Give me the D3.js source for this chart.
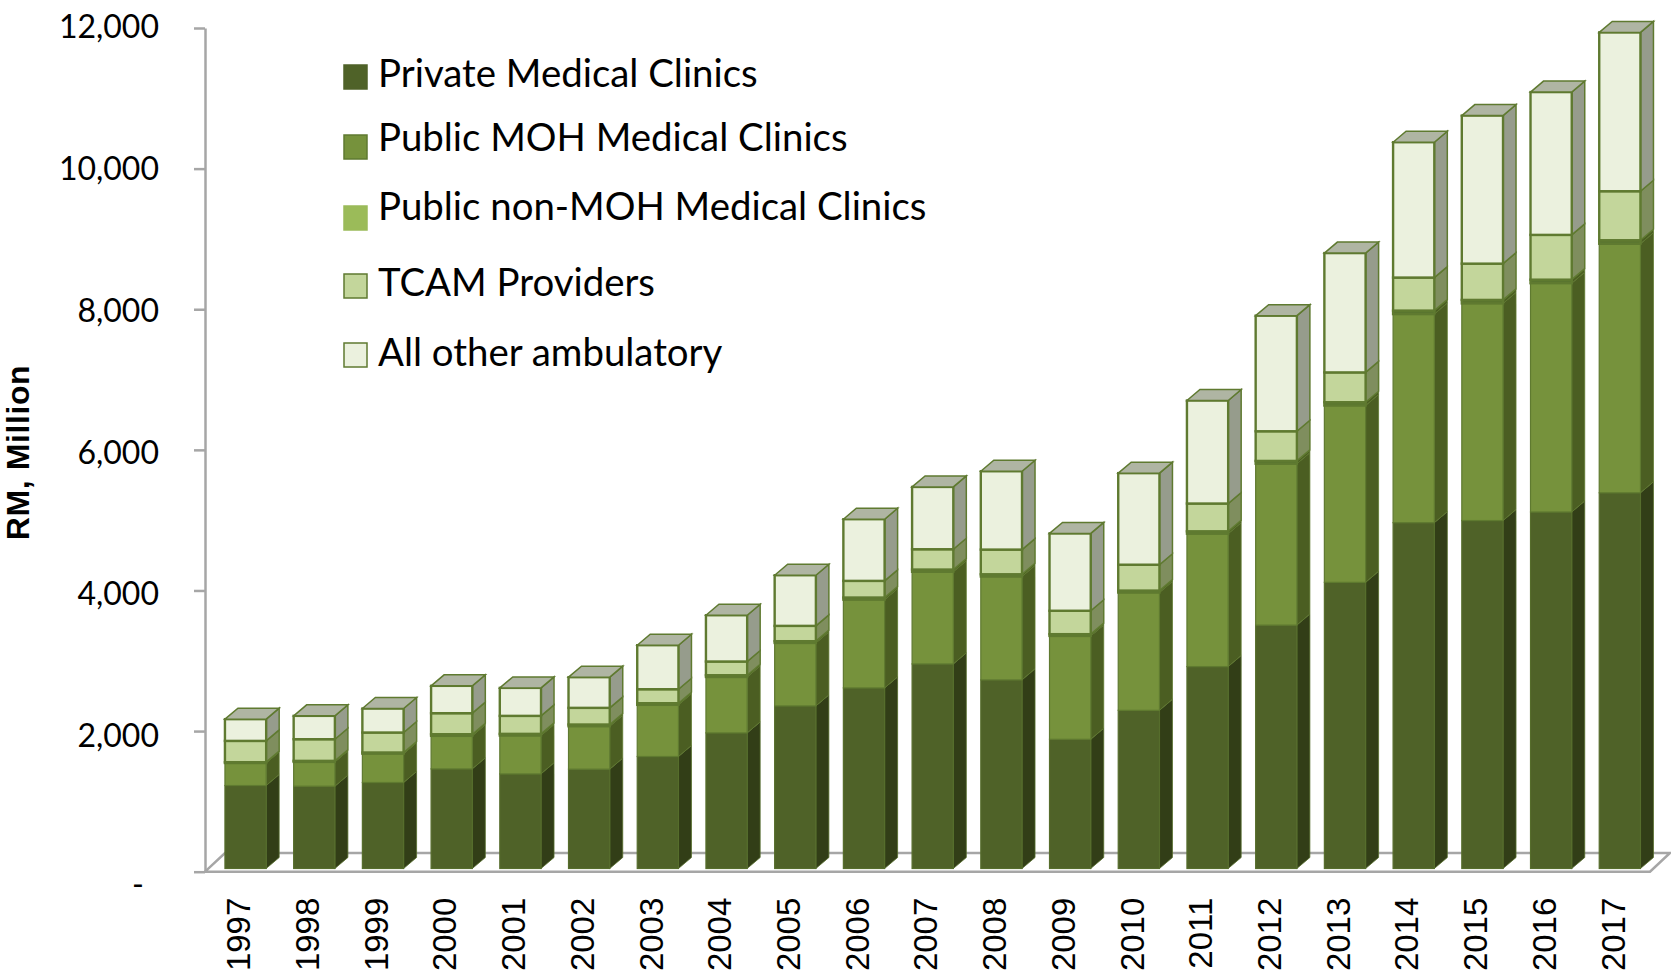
<!DOCTYPE html>
<html>
<head>
<meta charset="utf-8">
<script src="https://cdn.jsdelivr.net/npm/d3@7"></script>
<style>
  html, body { margin: 0; padding: 0; background: #fff; }
  svg { display: block; }
</style>
</head>
<body>
<div id="vis"></div>
<script>
const years = ["1997","1998","1999","2000","2001","2002","2003","2004","2005","2006","2007",
  "2008","2009","2010","2011","2012","2013","2014","2015","2016","2017"];

const seriesNames = ["Private Medical Clinics", "Public MOH Medical Clinics",
  "Public non-MOH Medical Clinics", "TCAM Providers", "All other ambulatory"];

const privateClinics = [1180,1171,1223,1417,1346,1413,1593,1929,2313,2569,2910,2683,1838,2250,2872,3462,4070,4919,4949,5071,5344];
const publicMoh = [320,345,410,470,545,610,735,795,895,1255,1310,1470,1470,1675,1890,2295,2515,2966,3088,3254,3542];
const publicNonMoh = [12,15,17,23,24,25,23,25,25,30,32,32,25,28,34,40,47,50,50,50,50];
const tcam = [303,308,284,299,256,237,199,195,218,237,289,351,333,368,395,422,424,470,516,637,697];
const otherAmb = [309,332,341,389,398,436,626,658,720,877,886,1114,1100,1302,1465,1644,1697,1925,2106,2031,2259];

const yTicks = [0, 2000, 4000, 6000, 8000, 10000, 12000];

const fronts = ["#4f6228", "#76923c", "#5a7530", "#c3d69b", "#ebf1de"];
const sides = ["#323e17", "#4b5e22", "#4b5e22", "#7f8e5e", "#969c8c"];
const legendFill = ["#4f6228", "#76923c", "#9bbb59", "#c3d69b", "#ebf1de"];
const legendStroke = ["#4f6228", "#5f7a30", "#9bbb59", "#5f7a30", "#5f7a30"];
const topFill = "#afb5a3";
const edge = "#5f7a30";

const svg = d3.select("#vis").append("svg")
  .attr("width", 1671)
  .attr("height", 980);

const x = d3.scaleBand()
  .domain(years)
  .range([205, 1648])
  .paddingInner(0.4)
  .paddingOuter(0.2);

const y = d3.scaleLinear()
  .domain([0, 12000])
  .range([871.7, 28]);

// bars stand a little inside the floor, shifted from the axis like the 3D chart
const shiftX = 6.2, shiftY = -3.2;
const depthX = 13, depthY = 11;

// ------------------------
// Floor
// ------------------------
svg.append("path")
  .attr("d", `M205,${y(0)}H1650L1670,${y(0) - 18.7}H225Z`)
  .attr("fill", "#fff")
  .attr("stroke", "#a6a6a6")
  .attr("stroke-width", 2.5);

// ------------------------
// Axes
// ------------------------
const yAxis = svg.append("g")
  .attr("transform", "translate(205,0)")
  .call(d3.axisLeft(y)
    .tickValues(yTicks)
    .tickSizeInner(11)
    .tickSizeOuter(0)
    .tickPadding(35)
    .tickFormat(d => d === 0 ? "-" : d3.format(",")(d)));

yAxis.selectAll("path, line")
  .attr("stroke", "#a6a6a6")
  .attr("stroke-width", 2.5);

// labels drift slightly from their ticks in the original
const labelDrift = d3.scaleLinear().domain([2000, 12000]).range([15.8, 9.4]);
yAxis.selectAll("text")
  .attr("fill", "#000")
  .attr("dy", d => d === 0 ? 24 : labelDrift(d))
  .attr("dx", d => d === 0 ? -15 : 0)
  .style("font-family", "Lato")
  .style("font-size", "32px");

const xAxis = svg.append("g")
  .attr("transform", `translate(0,${y(0)})`)
  .call(d3.axisBottom(x).tickSize(0));

xAxis.select(".domain").remove();
xAxis.selectAll("text")
  .attr("transform", "rotate(-90)")
  .attr("x", -26)
  .attr("y", -1)
  .attr("dy", "0.36em")
  .attr("fill", "#000")
  .style("text-anchor", "end")
  .style("font-family", "'Liberation Sans'")
  .style("font-size", "33px");

svg.append("text")
  .attr("transform", "translate(29,452.5) rotate(-90)")
  .attr("text-anchor", "middle")
  .style("font-family", "'Liberation Sans'")
  .style("font-weight", "bold")
  .style("font-size", "32px")
  .style("letter-spacing", "0.6px")
  .text("RM, Million");

// ------------------------
// Stacked 3D bars
// ------------------------
const rows = years.map((year, i) => ({
  year,
  s0: privateClinics[i],
  s1: publicMoh[i],
  s2: publicNonMoh[i],
  s3: tcam[i],
  s4: otherAmb[i]
}));

const stacked = d3.stack().keys(["s0", "s1", "s2", "s3", "s4"])(rows);

const bars = svg.append("g")
  .attr("transform", `translate(${shiftX},${shiftY})`);

const w = x.bandwidth();

stacked.forEach((layer, k) => {
  const strokeCol = k === 0 ? "#566d2c" : edge;

  bars.selectAll(null)
    .data(layer)
    .enter().append("path")
    .attr("d", d => {
      const xr = x(d.data.year) + w;
      return `M${xr},${y(d[1])}l${depthX},${-depthY}V${y(d[0]) - depthY}l${-depthX},${depthY}Z`;
    })
    .attr("fill", sides[k])
    .attr("stroke", strokeCol)
    .attr("stroke-width", k > 2 ? 1.5 : 0.8);

  bars.selectAll(null)
    .data(layer)
    .enter().append("rect")
    .attr("x", d => x(d.data.year))
    .attr("y", d => y(d[1]))
    .attr("width", w)
    .attr("height", d => y(d[0]) - y(d[1]))
    .attr("fill", fronts[k])
    .attr("stroke", strokeCol)
    .attr("stroke-width", k > 1 ? 2.4 : 1.2);
});

bars.selectAll(null)
  .data(stacked[4])
  .enter().append("path")
  .attr("d", d => `M${x(d.data.year)},${y(d[1])}l${depthX},${-depthY}h${w}l${-depthX},${depthY}Z`)
  .attr("fill", topFill)
  .attr("stroke", edge)
  .attr("stroke-width", 1.5);

// ------------------------
// Legend
// ------------------------
const swatchTop = [65, 135, 206, 274, 343];
const labelBase = [87, 151, 220, 296, 366];

const legend = svg.append("g");

seriesNames.forEach((name, i) => {
  legend.append("rect")
    .attr("x", 344).attr("y", swatchTop[i])
    .attr("width", 23).attr("height", 24)
    .attr("fill", legendFill[i])
    .attr("stroke", legendStroke[i])
    .attr("stroke-width", 1.5);
  legend.append("text")
    .attr("x", 378).attr("y", labelBase[i])
    .style("font-family", "Lato")
    .style("font-size", "38.4px")
    .text(name);
});
</script>
</body>
</html>
